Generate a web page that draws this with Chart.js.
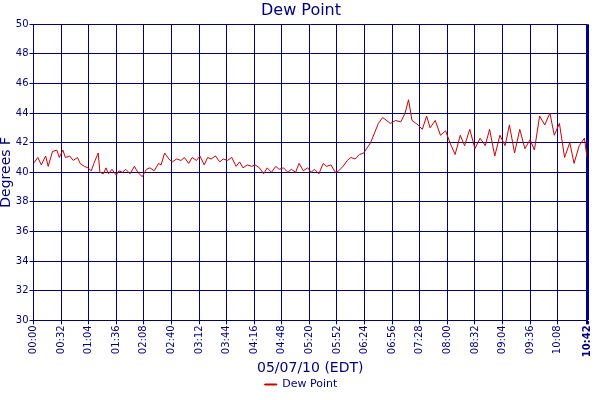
<!DOCTYPE html>
<html>
<head>
<meta charset="utf-8">
<script src="https://cdn.jsdelivr.net/npm/chart.js@4"></script>
<style>
  body { margin: 0; background: #fff; }
  #wrap { width: 600px; height: 400px; }
</style>
</head>
<body>
<div id="wrap"><canvas id="myChart"></canvas></div>
<script>
// minutes since 00:00 and dew point readings
const minutes = [0, 5, 9, 14, 17, 22, 27, 30, 34, 37, 42, 46, 51, 54, 59, 63, 67, 70, 75, 77, 81, 84, 87, 91, 96, 99, 103, 107, 112, 117, 121, 126, 131, 135, 140, 145, 148, 152, 157, 161, 166, 171, 175, 180, 184, 189, 193, 198, 202, 206, 211, 216, 220, 225, 230, 235, 239, 243, 248, 253, 257, 262, 267, 271, 276, 281, 285, 290, 295, 299, 304, 308, 313, 318, 322, 326, 331, 336, 340, 345, 350, 354, 359, 364, 368, 373, 378, 383, 391, 400, 405, 414, 420, 426, 431, 435, 439, 446, 451, 456, 460, 466, 472, 478, 483, 489, 495, 500, 506, 512, 518, 524, 529, 535, 541, 547, 552, 558, 564, 570, 576, 581, 587, 593, 599, 604, 610, 616, 622, 627, 633, 639, 642];
const dewPoint = [40.6, 41.0, 40.5, 41.1, 40.4, 41.4, 41.5, 41.0, 41.5, 41.0, 41.1, 40.8, 41.0, 40.6, 40.4, 40.3, 40.1, 40.6, 41.3, 40.0, 39.9, 40.3, 39.9, 40.2, 39.8, 40.1, 40.0, 40.2, 39.9, 40.4, 40.0, 39.7, 40.2, 40.3, 40.1, 40.6, 40.5, 41.3, 40.9, 40.7, 40.9, 40.8, 41.0, 40.6, 41.0, 40.8, 41.1, 40.5, 41.0, 40.9, 41.1, 40.7, 40.9, 40.8, 41.0, 40.4, 40.7, 40.3, 40.5, 40.4, 40.5, 40.3, 39.9, 40.3, 40.0, 40.4, 40.2, 40.3, 40.0, 40.2, 40.0, 40.6, 40.1, 40.3, 40.0, 40.2, 39.9, 40.6, 40.4, 40.5, 40.0, 40.1, 40.4, 40.8, 41.0, 40.9, 41.2, 41.3, 42.0, 43.3, 43.7, 43.3, 43.5, 43.4, 44.0, 44.9, 43.5, 43.2, 42.9, 43.8, 43.0, 43.5, 42.5, 42.8, 42.0, 41.2, 42.5, 41.8, 42.9, 41.6, 42.3, 41.8, 42.9, 41.1, 42.5, 41.8, 43.2, 41.3, 42.9, 41.6, 42.2, 41.5, 43.8, 43.2, 44.0, 42.5, 43.3, 41.0, 42.0, 40.6, 41.8, 42.3, 41.0];
const xTicks = [0, 32, 64, 96, 128, 160, 192, 224, 256, 288, 320, 352, 384, 416, 448, 480, 512, 544, 576, 608, 642];
const yTicks = [30, 32, 34, 36, 38, 40, 42, 44, 46, 48, 50];

const navy = '#000080';
const fmt = m => String(Math.floor(m / 60)).padStart(2, '0') + ':' + String(m % 60).padStart(2, '0');

const config = {
  type: 'line',
  data: {
    datasets: [{
      label: 'Dew Point',
      data: minutes.map((m, i) => ({ x: m, y: dewPoint[i] })),
      borderColor: '#cc0000',
      backgroundColor: '#cc0000',
      borderWidth: 1,
      pointRadius: 0,
      tension: 0
    }]
  },
  options: {
    animation: false,
    responsive: true,
    maintainAspectRatio: false,
    layout: { padding: { right: -4, top: 0, left: -2, bottom: 0 } },
    plugins: {
      title: {
        display: true, text: 'Dew Point', color: navy,
        font: { family: 'DejaVu Sans', size: 16, weight: 'normal' },
        padding: { top: 1, bottom: 4 }
      },
      legend: {
        position: 'bottom',
        labels: {
          color: navy, boxWidth: 12, boxHeight: 1,
          font: { family: 'DejaVu Sans', size: 11 }, padding: 2
        }
      },
      tooltip: { enabled: false }
    },
    scales: {
      x: {
        type: 'linear', min: 0, max: 642,
        afterBuildTicks: axis => { axis.ticks = xTicks.map(v => ({ value: v })); },
        grid: { color: navy, lineWidth: c => (c.tick && c.tick.value === 642 ? 3 : 1), tickLength: 4 },
        border: { color: navy },
        ticks: {
          color: navy, maxRotation: 90, minRotation: 90, autoSkip: false, padding: 1,
          font: c => ({ family: 'DejaVu Sans', size: 10, weight: c.tick && c.tick.value === 642 ? 'bold' : 'normal' }),
          callback: v => fmt(v)
        },
        title: {
          display: true, text: '05/07/10 (EDT)', color: navy,
          font: { family: 'DejaVu Sans', size: 14 }, padding: { top: 2, bottom: 0 }
        }
      },
      y: {
        min: 30, max: 50,
        afterBuildTicks: axis => { axis.ticks = yTicks.map(v => ({ value: v })); },
        grid: { color: navy, tickLength: 4 },
        border: { color: navy },
        ticks: { color: navy, padding: 1, font: { family: 'DejaVu Sans', size: 10 } },
        title: {
          display: true, text: 'Degrees F', color: navy,
          font: { family: 'DejaVu Sans', size: 14 }, padding: 0
        }
      }
    }
  }
};

const myChart = new Chart(document.getElementById('myChart'), config);
</script>
</body>
</html>
